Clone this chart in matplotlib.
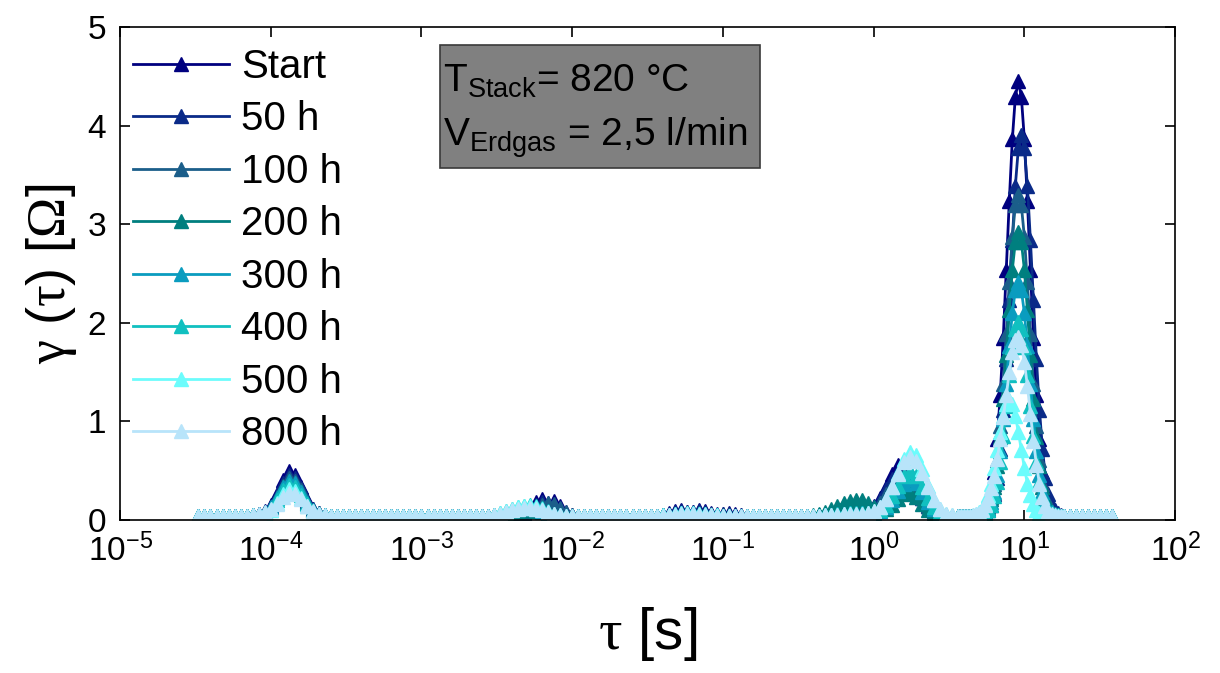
import numpy as np
import matplotlib
matplotlib.use("Agg")
import matplotlib.pyplot as plt
from matplotlib.patches import Rectangle
from matplotlib.ticker import NullLocator, FixedLocator

plt.rcParams['font.family'] = ['Liberation Sans', 'DejaVu Sans']
plt.rcParams['mathtext.fontset'] = 'custom'
plt.rcParams['mathtext.rm'] = 'Liberation Sans'
plt.rcParams['mathtext.it'] = 'Liberation Sans:italic'
plt.rcParams['mathtext.bf'] = 'Liberation Sans:bold'
plt.rcParams['mathtext.sf'] = 'Liberation Serif'   # used for the greek symbols

# relaxation time grid (log10 tau), finer around the main peak
log_tau = np.concatenate([np.linspace(-4.48, 0.52, 126),
                          np.linspace(0.56, 1.26, 36),
                          np.linspace(1.30, 1.58, 8)])
base = 0.045

labels = ['Start', '50 h', '100 h', '200 h', '300 h', '400 h', '500 h', '800 h']
colors = ['#00007f', '#0a2a88', '#1b5e8a', '#007f7f',
          '#0a9cbf', '#11c0c0', '#6cfcfc', '#b8e4fa']

# peaks: (start log10 tau, gamma values)
start_peaks = [
    (-4.12, [0.05, 0.06, 0.09, 0.15, 0.26, 0.41, 0.50, 0.46, 0.34, 0.20, 0.11, 0.07, 0.055, 0.045]),
    (-2.56, [0.045, 0.045, 0.05, 0.05, 0.055, 0.06, 0.08, 0.12, 0.18, 0.21, 0.17, 0.19, 0.14, 0.08, 0.055, 0.045]),
    (-1.40, [0.05, 0.07, 0.09, 0.10, 0.08, 0.08, 0.10, 0.09, 0.07, 0.06, 0.065, 0.07, 0.06, 0.05]),
    (-0.40, [0.045, 0.05, 0.06, 0.08, 0.11, 0.14, 0.16, 0.16, 0.14, 0.12, 0.14, 0.22,
             0.34, 0.47, 0.56, 0.57, 0.49, 0.36, 0.23, 0.14, 0.09, 0.06, 0.05, 0.045]),
    (0.56, [0.045] * 8 + [0.07, 0.10, 0.17, 0.29, 0.49, 0.82, 1.27, 1.85, 2.54, 3.24, 3.86, 4.29, 4.45,
                          4.29, 3.86, 3.24, 2.54, 1.85, 1.27, 0.82, 0.49, 0.29, 0.17, 0.10, 0.07, 0.05, 0.045, 0.045]),
]
h50_peaks = [
    (-4.12, [0.05, 0.06, 0.08, 0.14, 0.24, 0.38, 0.46, 0.43, 0.32, 0.19, 0.11, 0.07, 0.05, 0.045]),
    (-2.56, [0.045, 0.045, 0.05, 0.05, 0.055, 0.06, 0.075, 0.10, 0.15, 0.18, 0.16, 0.13, 0.09, 0.06, 0.05, 0.045]),
    (-1.40, [0.05, 0.06, 0.08, 0.09, 0.08, 0.08, 0.09, 0.08, 0.065, 0.055, 0.06, 0.065, 0.055, 0.05]),
    (-0.40, [0.045, 0.05, 0.055, 0.07, 0.09, 0.12, 0.14, 0.14, 0.13, 0.11, 0.13, 0.20,
             0.31, 0.42, 0.50, 0.51, 0.45, 0.34, 0.22, 0.14, 0.09, 0.06, 0.05, 0.045]),
    (0.56, [0.045] * 8 + [0.05, 0.07, 0.10, 0.15, 0.26, 0.43, 0.72, 1.12, 1.63, 2.23, 2.84, 3.39, 3.77,
                          3.90, 3.77, 3.39, 2.84, 2.23, 1.63, 1.12, 0.72, 0.43, 0.26, 0.15, 0.10, 0.07, 0.05, 0.045]),
]
h100_peaks = [
    (-4.12, [0.05, 0.06, 0.08, 0.13, 0.23, 0.35, 0.43, 0.40, 0.30, 0.18, 0.10, 0.07, 0.05, 0.045]),
    (-2.56, [0.045, 0.045, 0.05, 0.05, 0.055, 0.06, 0.07, 0.09, 0.12, 0.15, 0.17, 0.16, 0.12, 0.08, 0.055, 0.045]),
    (-1.40, [0.05, 0.055, 0.06, 0.07, 0.07, 0.07, 0.07, 0.065, 0.06, 0.055, 0.05, 0.05, 0.045, 0.045]),
    (-0.40, [0.045, 0.05, 0.055, 0.065, 0.08, 0.10, 0.12, 0.13, 0.12, 0.11, 0.12, 0.17,
             0.26, 0.36, 0.43, 0.46, 0.42, 0.33, 0.22, 0.14, 0.09, 0.06, 0.05, 0.045]),
    (0.56, [0.045] * 8 + [0.065, 0.09, 0.14, 0.23, 0.37, 0.61, 0.95, 1.38, 1.89, 2.41, 2.87, 3.19, 3.30,
                          3.19, 2.87, 2.41, 1.89, 1.38, 0.95, 0.61, 0.37, 0.23, 0.14, 0.09, 0.065, 0.05, 0.045, 0.045]),
]
h200_peaks = [
    (-4.12, [0.05, 0.055, 0.08, 0.12, 0.22, 0.33, 0.40, 0.37, 0.28, 0.17, 0.10, 0.065, 0.05, 0.045]),
    (-2.56, [0.045, 0.05, 0.06, 0.07, 0.08, 0.09, 0.10, 0.10, 0.09, 0.08, 0.07, 0.06, 0.05, 0.045, 0.045, 0.045]),
    (-1.40, [0.045, 0.05, 0.055, 0.06, 0.06, 0.06, 0.06, 0.055, 0.05, 0.05, 0.045, 0.045, 0.045, 0.045]),
    (-0.40, [0.05, 0.06, 0.08, 0.11, 0.14, 0.17, 0.19, 0.20, 0.20, 0.17, 0.13, 0.10,
             0.11, 0.15, 0.21, 0.26, 0.27, 0.23, 0.16, 0.10, 0.07, 0.055, 0.045, 0.045]),
    (0.56, [0.045] * 8 + [0.06, 0.085, 0.125, 0.21, 0.33, 0.55, 0.84, 1.23, 1.67, 2.13, 2.54, 2.82, 2.92,
                          2.82, 2.54, 2.13, 1.67, 1.23, 0.84, 0.55, 0.33, 0.21, 0.125, 0.085, 0.06, 0.05, 0.045, 0.045]),
]
h300_peaks = [
    (-4.12, [0.05, 0.06, 0.08, 0.13, 0.22, 0.33, 0.40, 0.38, 0.28, 0.17, 0.10, 0.065, 0.05, 0.045]),
    (-2.56, [0.045, 0.05, 0.06, 0.08, 0.10, 0.11, 0.12, 0.12, 0.11, 0.09, 0.07, 0.06, 0.05, 0.045, 0.045, 0.045]),
    (-1.40, [0.045, 0.05, 0.055, 0.06, 0.065, 0.065, 0.06, 0.055, 0.05, 0.05, 0.045, 0.045, 0.045, 0.045]),
    (-0.40, [0.045, 0.045, 0.05, 0.055, 0.06, 0.065, 0.07, 0.07, 0.07, 0.07, 0.075, 0.09,
             0.13, 0.20, 0.29, 0.37, 0.42, 0.38, 0.28, 0.18, 0.11, 0.07, 0.05, 0.045]),
    (0.56, [0.045] * 8 + [0.06, 0.08, 0.11, 0.18, 0.28, 0.46, 0.70, 1.02, 1.38, 1.76, 2.10, 2.33, 2.41,
                          2.33, 2.10, 1.76, 1.38, 1.02, 0.70, 0.46, 0.28, 0.18, 0.11, 0.08, 0.06, 0.05, 0.045, 0.045]),
]
h400_peaks = [
    (-4.12, [0.05, 0.055, 0.075, 0.115, 0.20, 0.30, 0.36, 0.34, 0.25, 0.16, 0.09, 0.06, 0.05, 0.045]),
    (-2.56, [0.045, 0.055, 0.07, 0.09, 0.11, 0.13, 0.14, 0.15, 0.14, 0.12, 0.09, 0.065, 0.05, 0.045, 0.045, 0.045]),
    (-1.40, [0.05, 0.055, 0.065, 0.07, 0.07, 0.07, 0.065, 0.06, 0.055, 0.05, 0.045, 0.045, 0.045, 0.045]),
    (-0.40, [0.045, 0.045, 0.05, 0.055, 0.06, 0.065, 0.07, 0.07, 0.07, 0.07, 0.08, 0.10,
             0.15, 0.24, 0.35, 0.45, 0.50, 0.45, 0.34, 0.22, 0.13, 0.08, 0.055, 0.045]),
    (0.56, [0.045] * 8 + [0.055, 0.07, 0.10, 0.155, 0.24, 0.39, 0.59, 0.85, 1.16, 1.47, 1.75, 1.94, 2.01,
                          1.94, 1.75, 1.47, 1.16, 0.85, 0.59, 0.39, 0.24, 0.155, 0.10, 0.07, 0.055, 0.05, 0.045, 0.045]),
]
h500_peaks = [
    (-4.12, [0.048, 0.053, 0.07, 0.10, 0.17, 0.26, 0.31, 0.29, 0.22, 0.14, 0.085, 0.06, 0.05, 0.045]),
    (-2.56, [0.045, 0.055, 0.07, 0.09, 0.11, 0.13, 0.14, 0.14, 0.13, 0.11, 0.085, 0.06, 0.05, 0.045, 0.045, 0.045]),
    (-1.40, [0.05, 0.055, 0.065, 0.07, 0.072, 0.07, 0.065, 0.06, 0.055, 0.05, 0.045, 0.045, 0.045, 0.045]),
    (-0.40, [0.045, 0.045, 0.05, 0.05, 0.055, 0.06, 0.06, 0.065, 0.065, 0.07, 0.09, 0.13,
             0.21, 0.33, 0.48, 0.62, 0.69, 0.66, 0.52, 0.35, 0.20, 0.11, 0.065, 0.05]),
    (0.56, [0.045] * 5 + [0.05, 0.06, 0.08, 0.11, 0.16, 0.25, 0.37, 0.53, 0.71, 0.89, 1.06, 1.18, 1.22,
                          1.18, 1.06, 0.89, 0.71, 0.53, 0.37, 0.25, 0.16, 0.10, 0.07, 0.055] + [0.045] * 7),
]
h800_peaks = [
    (-4.12, [0.05, 0.06, 0.08, 0.11, 0.16, 0.23, 0.27, 0.26, 0.21, 0.14, 0.09, 0.06, 0.05, 0.045]),
    (-2.56, [0.045, 0.05, 0.065, 0.08, 0.10, 0.11, 0.12, 0.12, 0.11, 0.10, 0.08, 0.06, 0.05, 0.045, 0.045, 0.045]),
    (-1.40, [0.045, 0.05, 0.055, 0.06, 0.06, 0.06, 0.055, 0.05, 0.05, 0.045, 0.045, 0.045, 0.045, 0.045]),
    (-0.40, [0.045, 0.045, 0.05, 0.05, 0.055, 0.06, 0.06, 0.065, 0.065, 0.07, 0.09, 0.13,
             0.21, 0.33, 0.47, 0.59, 0.64, 0.60, 0.48, 0.33, 0.20, 0.11, 0.065, 0.05]),
    (0.56, [0.045] * 5 + [0.05, 0.06, 0.075, 0.10, 0.15, 0.22, 0.32, 0.45, 0.62, 0.82, 1.04, 1.27, 1.50, 1.70,
                          1.83, 1.86, 1.78, 1.60, 1.36, 1.08, 0.80, 0.56, 0.37, 0.23, 0.14, 0.09, 0.065, 0.05]
           + [0.045] * 3),
]

x_ticks = [1e-5, 1e-4, 1e-3, 1e-2, 1e-1, 1e0, 1e1, 1e2]
x_ticklabels = ['10$^{-5}$', '10$^{-4}$', '10$^{-3}$', '10$^{-2}$',
                '10$^{-1}$', '10$^{0}$', '10$^{1}$', '10$^{2}$']
y_ticks = [0, 1, 2, 3, 4, 5]


def build_curve(peaks):
    """flat baseline with the read peak values put in place"""
    g = np.full(log_tau.size, base)
    for start, vals in peaks:
        i = int(np.argmin(np.abs(log_tau - start)))
        g[i:i + len(vals)] = vals
    return g


all_peaks = [start_peaks, h50_peaks, h100_peaks, h200_peaks,
             h300_peaks, h400_peaks, h500_peaks, h800_peaks]

fig = plt.figure(figsize=(12.2, 6.73), dpi=100)
ax = fig.add_axes([0.0984, 0.2273, 0.8648, 0.7326])

tau = 10 ** log_tau
for lab, col, peaks in zip(labels, colors, all_peaks):
    ax.plot(tau, build_curve(peaks), '-^', color=col, lw=2.0, ms=9.5,
            mec=col, mew=1.0, label=lab)

ax.set_xscale('log')
ax.set_xlim(1e-5, 1e2)
ax.set_ylim(0, 5)
ax.xaxis.set_major_locator(FixedLocator(x_ticks))
ax.xaxis.set_minor_locator(NullLocator())
ax.set_xticklabels(x_ticklabels)
ax.set_yticks(y_ticks)
ax.tick_params(which='both', direction='in', top=True, right=True,
               length=7, width=1.2, labelsize=24)
ax.tick_params(axis='x', pad=10)
ax.tick_params(axis='y', pad=10)
for sp in ax.spines.values():
    sp.set_linewidth(1.2)

ax.set_xlabel(r'$\mathsf{\tau}$ [s]', fontsize=42, labelpad=26)
ax.set_ylabel(r'$\mathsf{\gamma}$ ($\mathsf{\tau}$) [$\mathsf{\Omega}$]', fontsize=39, labelpad=6)

ax.legend(loc='upper left', bbox_to_anchor=(0.012, 0.958), frameon=False,
          fontsize=29, handlelength=2.4, handletextpad=0.3, labelspacing=0.36,
          borderpad=0, borderaxespad=0, numpoints=1)

# grey info box
ax.add_patch(Rectangle((0.303, 0.714), 0.304, 0.249, transform=ax.transAxes,
                       fc='#808080', ec='#3a3a3a', lw=1.2, zorder=5))
ax.text(0.306, 0.868, r'T$_{\mathregular{Stack}}$= 820 °C', transform=ax.transAxes,
        fontsize=28, va='baseline', ha='left', zorder=6)
ax.text(0.306, 0.760, r'V$_{\mathregular{Erdgas}}$ = 2,5 l/min', transform=ax.transAxes,
        fontsize=28, va='baseline', ha='left', zorder=6)

fig.savefig('out.png', dpi=100)
